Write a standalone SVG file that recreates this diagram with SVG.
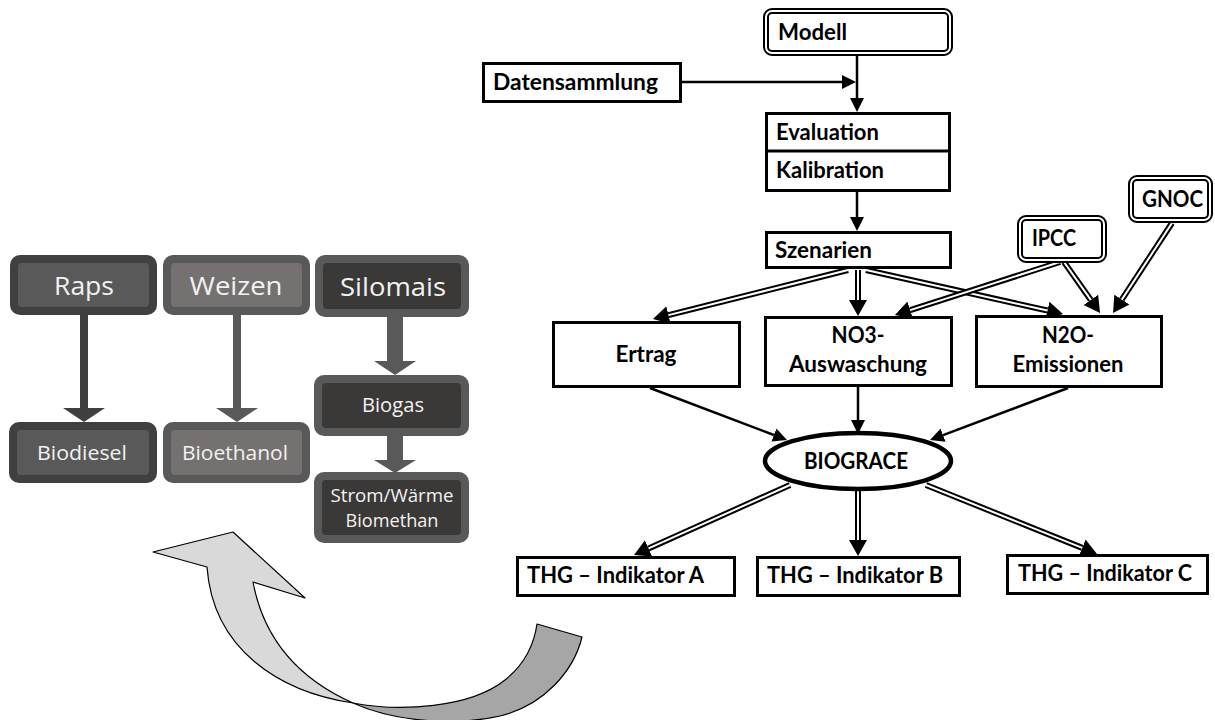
<svg xmlns="http://www.w3.org/2000/svg" width="1215" height="720" viewBox="0 0 1215 720">
<style>
.box{fill:#fff;stroke:#000;stroke-width:3}
.dbo{fill:#fff;stroke:#000;stroke-width:6}
.dbi{fill:none;stroke:#fff;stroke-width:2}
.lbl{font-family:Lato,"Liberation Sans",sans-serif;font-weight:700;font-size:22px;fill:#000}
.ln{stroke:#000;stroke-width:2.5;fill:none}
.dlo{stroke:#000;stroke-width:6;fill:none}
.dli{stroke:#fff;stroke-width:2;fill:none}
.lt{font-family:"Open Sans","Liberation Sans",sans-serif;fill:#f2f2f2;text-anchor:middle}
.big{stroke:#000;stroke-width:1.2;stroke-linejoin:round}
</style>
<defs>
<marker id="ah" markerUnits="userSpaceOnUse" markerWidth="16" markerHeight="18" viewBox="0 0 16 18" refX="0" refY="9" orient="auto"><path d="M0,0 L16,9 L0,18 Z" fill="#000"/></marker>
<marker id="as" markerUnits="userSpaceOnUse" markerWidth="14" markerHeight="14" viewBox="0 0 14 14" refX="0" refY="7" orient="auto"><path d="M0,0 L14,7 L0,14 Z" fill="#000"/></marker>
</defs>

<g id="cycle-arrow">
<path class="big" fill="#a6a6a6" d="M353,703 C400,712 470,708 505,680 C525,664 534,645 537,624 L582,637 C574,670 545,705 500,716 C455,726 395,722 353,703 Z"/>
<path class="big" fill="#d9d9d9" d="M353,703 C280,692 213,650 207,567 L153,552 L233,532 L305,598 L253,582 C262,630 290,675 353,703 Z"/>
</g>

<g id="left-connectors">
<rect x="80" y="314" width="8" height="95" fill="#404040"/>
<polygon points="63,408 105,408 84,422" fill="#404040"/>
<rect x="233" y="314" width="8" height="95" fill="#595959"/>
<polygon points="216,408 258,408 237,422" fill="#595959"/>
<rect x="387" y="316" width="16" height="46" fill="#595959"/>
<polygon points="374,361 416,361 395,375" fill="#595959"/>
<rect x="387" y="435" width="16" height="26" fill="#595959"/>
<polygon points="374,460 416,460 395,473" fill="#595959"/>
</g>

<g id="raps"><rect x="10" y="255" width="147" height="60" rx="10" fill="#404040"/><rect x="18" y="263" width="131" height="44" rx="4" fill="#595959"/><text class="lt" x="84" y="295" font-size="25" textLength="60" lengthAdjust="spacingAndGlyphs">Raps</text></g>
<g id="weizen"><rect x="163" y="255" width="147" height="60" rx="10" fill="#595959"/><rect x="171" y="263" width="131" height="44" rx="4" fill="#767171"/><text class="lt" x="236" y="295" font-size="25" textLength="93" lengthAdjust="spacingAndGlyphs">Weizen</text></g>
<g id="silomais"><rect x="315" y="255" width="154" height="62" rx="10" fill="#595959"/><rect x="323" y="263" width="138" height="46" rx="4" fill="#3b3838"/><text class="lt" x="393" y="296" font-size="25" textLength="106" lengthAdjust="spacingAndGlyphs">Silomais</text></g>
<g id="biodiesel"><rect x="9" y="422" width="148" height="61" rx="10" fill="#404040"/><rect x="17" y="430" width="132" height="45" rx="4" fill="#595959"/><text class="lt" x="82" y="460" font-size="20" textLength="90" lengthAdjust="spacingAndGlyphs">Biodiesel</text></g>
<g id="bioethanol"><rect x="163" y="422" width="147" height="61" rx="10" fill="#595959"/><rect x="171" y="430" width="131" height="45" rx="4" fill="#767171"/><text class="lt" x="235" y="460" font-size="20" textLength="106" lengthAdjust="spacingAndGlyphs">Bioethanol</text></g>
<g id="biogas"><rect x="314" y="375" width="155" height="61" rx="10" fill="#595959"/><rect x="322" y="383" width="139" height="45" rx="4" fill="#3b3838"/><text class="lt" x="393" y="412" font-size="20" textLength="62" lengthAdjust="spacingAndGlyphs">Biogas</text></g>
<g id="strom"><rect x="314" y="472" width="155" height="71" rx="10" fill="#595959"/><rect x="322" y="480" width="139" height="55" rx="4" fill="#3b3838"/><text class="lt" x="392" y="502" font-size="18" textLength="123" lengthAdjust="spacingAndGlyphs">Strom/Wärme</text><text class="lt" x="392" y="527" font-size="18" textLength="93" lengthAdjust="spacingAndGlyphs">Biomethan</text></g>

<g id="connectors">
<line class="ln" x1="857" y1="56" x2="857" y2="98" marker-end="url(#as)"/>
<line class="ln" x1="682" y1="82" x2="842" y2="82" marker-end="url(#as)"/>
<line class="ln" x1="857" y1="192" x2="857" y2="217" marker-end="url(#as)"/>
<line class="ln" x1="650" y1="388" x2="773.9" y2="435" marker-end="url(#as)"/>
<line class="ln" x1="858" y1="387" x2="858" y2="420" marker-end="url(#as)"/>
<line class="ln" x1="1068" y1="388" x2="943.1" y2="435.1" marker-end="url(#as)"/>

<line class="dlo" x1="848" y1="270" x2="668.5" y2="315.1" marker-end="url(#ah)"/>
<line class="dli" x1="848" y1="270" x2="668.5" y2="315.1"/>
<line class="dlo" x1="858" y1="270" x2="858" y2="300" marker-end="url(#ah)"/>
<line class="dli" x1="858" y1="270" x2="858" y2="300"/>
<line class="dlo" x1="866" y1="270" x2="1047.4" y2="310.5" marker-end="url(#ah)"/>
<line class="dli" x1="866" y1="270" x2="1047.4" y2="310.5"/>
<line class="dlo" x1="1060" y1="262" x2="910.2" y2="310.1" marker-end="url(#ah)"/>
<line class="dli" x1="1060" y1="262" x2="910.2" y2="310.1"/>
<line class="dlo" x1="1064" y1="262" x2="1090.8" y2="299.9" marker-end="url(#ah)"/>
<line class="dli" x1="1064" y1="262" x2="1090.8" y2="299.9"/>
<line class="dlo" x1="1172" y1="223" x2="1121.8" y2="299.6" marker-end="url(#ah)"/>
<line class="dli" x1="1172" y1="223" x2="1121.8" y2="299.6"/>

<line class="dlo" x1="790" y1="485" x2="648.6" y2="548.4" marker-end="url(#ah)"/>
<line class="dli" x1="790" y1="485" x2="648.6" y2="548.4"/>
<line class="dlo" x1="858" y1="489" x2="858" y2="540" marker-end="url(#ah)"/>
<line class="dli" x1="858" y1="489" x2="858" y2="540"/>
<line class="dlo" x1="926" y1="485" x2="1082.2" y2="547.9" marker-end="url(#ah)"/>
<line class="dli" x1="926" y1="485" x2="1082.2" y2="547.9"/>
</g>

<g id="modell"><rect class="dbo" x="766" y="11" width="184" height="42" rx="6"/><rect class="dbi" x="766" y="11" width="184" height="42" rx="6"/><text class="lbl" x="778" y="40" textLength="69" lengthAdjust="spacingAndGlyphs">Modell</text></g>
<g id="datensammlung"><rect class="box" x="483.5" y="63.5" width="197" height="38"/><text class="lbl" x="493" y="90" textLength="165" lengthAdjust="spacingAndGlyphs">Datensammlung</text></g>
<g id="evaluation-kalibration"><rect class="box" x="766.5" y="113.5" width="183" height="77"/><line x1="766.5" y1="151" x2="949.5" y2="151" stroke="#000" stroke-width="3"/><text class="lbl" x="776" y="140">Evaluation</text><text class="lbl" x="776" y="178">Kalibration</text></g>
<g id="szenarien"><rect class="box" x="766.5" y="232.5" width="184" height="35"/><text class="lbl" x="775" y="258" textLength="97" lengthAdjust="spacingAndGlyphs">Szenarien</text></g>
<g id="ipcc"><rect class="dbo" x="1020" y="218" width="84" height="42" rx="6"/><rect class="dbi" x="1020" y="218" width="84" height="42" rx="6"/><text class="lbl" x="1032" y="246" textLength="44" lengthAdjust="spacingAndGlyphs">IPCC</text></g>
<g id="gnoc"><rect class="dbo" x="1131" y="178" width="79" height="42" rx="6"/><rect class="dbi" x="1131" y="178" width="79" height="42" rx="6"/><text class="lbl" x="1142" y="207" textLength="61" lengthAdjust="spacingAndGlyphs">GNOC</text></g>
<g id="ertrag"><rect class="box" x="553.5" y="322.5" width="186" height="64"/><text class="lbl" x="646" y="362" text-anchor="middle" textLength="61" lengthAdjust="spacingAndGlyphs">Ertrag</text></g>
<g id="no3"><rect class="box" x="765.5" y="317.5" width="186" height="68"/><text class="lbl" x="858" y="343" text-anchor="middle" textLength="53" lengthAdjust="spacingAndGlyphs">NO3-</text><text class="lbl" x="858" y="372" text-anchor="middle" textLength="138" lengthAdjust="spacingAndGlyphs">Auswaschung</text></g>
<g id="n2o"><rect class="box" x="976.5" y="316.5" width="185" height="70"/><text class="lbl" x="1068" y="343" text-anchor="middle" textLength="52" lengthAdjust="spacingAndGlyphs">N2O-</text><text class="lbl" x="1068" y="372" text-anchor="middle" textLength="111" lengthAdjust="spacingAndGlyphs">Emissionen</text></g>
<g id="biograce"><ellipse cx="858" cy="461" rx="93" ry="28" fill="#fff" stroke="#000" stroke-width="4.5"/><text class="lbl" x="856" y="469" text-anchor="middle" font-size="20" textLength="104" lengthAdjust="spacingAndGlyphs">BIOGRACE</text></g>
<g id="thg-a"><rect class="box" x="517.5" y="557.5" width="217" height="38"/><text class="lbl" x="527" y="583" textLength="177" lengthAdjust="spacingAndGlyphs">THG – Indikator A</text></g>
<g id="thg-b"><rect class="box" x="757.5" y="557.5" width="202" height="38"/><text class="lbl" x="767" y="583" textLength="176" lengthAdjust="spacingAndGlyphs">THG – Indikator B</text></g>
<g id="thg-c"><rect class="box" x="1007.5" y="555.5" width="200" height="38"/><text class="lbl" x="1018" y="581" textLength="174" lengthAdjust="spacingAndGlyphs">THG – Indikator C</text></g>
</svg>
